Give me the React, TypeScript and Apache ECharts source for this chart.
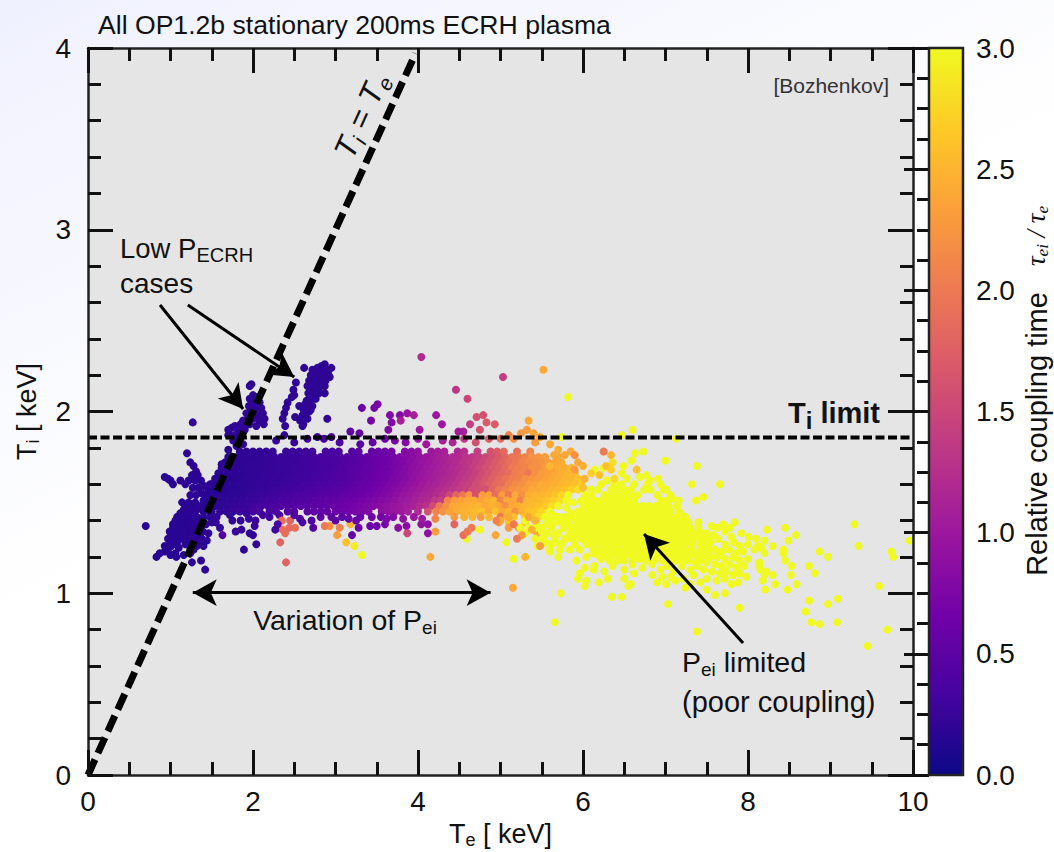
import React, { useEffect, useRef } from "react";
import * as echarts from "echarts";

const plasma = ["#0d0887","#46039f","#7201a8","#9c179e","#bd3786","#d8576b","#ed7953","#fb9f3a","#fdca26","#f0f921"];
const xTickLimit = 10;
const yTickLimit = 4;
const coolingLimit = 1.857;
const saturated = 3;

// Dense band, one list per Ti row: Te, ratio, Te, ratio ...
const band178 = [1.84,.2,1.92,.2,2.0,.21,2.08,.2,2.16,.22,2.24,.23,2.4,.26,2.48,.27,2.56,.26,2.64,.3,2.72,.29,2.88,.34,2.96,.36,3.04,.37,3.2,.45,3.28,.47,3.44,.56,3.52,.58,3.6,.62,3.68,.68,3.84,.78,3.92,.85,4.0,.9,4.16,1.0,4.24,1.05,4.32,1.1,4.48,1.15,4.56,1.25,4.72,1.4,4.88,1.6,4.96,1.7,5.04,1.85,5.2,1.9,5.36,2.1];
const band175 = [1.7,.18,1.78,.2,1.86,.2,1.94,.21,2.02,.2,2.1,.22,2.18,.23,2.26,.24,2.34,.25,2.42,.26,2.5,.27,2.58,.28,2.66,.3,2.74,.3,2.82,.33,2.9,.35,2.98,.37,3.06,.4,3.14,.43,3.22,.46,3.3,.5,3.38,.54,3.46,.58,3.54,.6,3.62,.65,3.7,.7,3.78,.75,3.86,.8,3.94,.86,4.02,.92,4.1,.96,4.18,1.02,4.26,1.08,4.34,1.12,4.42,1.18,4.5,1.2,4.58,1.3,4.66,1.35,4.74,1.42,4.82,1.5,4.9,1.6,4.98,1.7,5.06,1.8,5.14,1.95,5.22,2.0,5.3,2.1,5.38,2.2,5.46,2.25,5.54,2.3];
const band172 = [1.66,.18,1.74,.19,1.82,.2,1.9,.2,1.98,.21,2.06,.22,2.14,.22,2.22,.24,2.3,.25,2.38,.26,2.46,.27,2.54,.28,2.62,.29,2.7,.3,2.78,.32,2.86,.34,2.94,.36,3.02,.39,3.1,.42,3.18,.45,3.26,.48,3.34,.52,3.42,.56,3.5,.6,3.58,.63,3.66,.68,3.74,.73,3.82,.78,3.9,.84,3.98,.9,4.06,.95,4.14,1.0,4.22,1.06,4.3,1.1,4.38,1.16,4.46,1.2,4.54,1.28,4.62,1.34,4.7,1.42,4.78,1.5,4.86,1.6,4.94,1.7,5.02,1.8,5.1,1.9,5.18,2.0,5.26,2.1,5.34,2.15,5.42,2.2,5.5,2.25,5.58,2.3,5.66,2.4,5.74,2.45];
const band169 = [1.62,.17,1.7,.18,1.78,.19,1.86,.2,1.94,.21,2.02,.21,2.1,.22,2.18,.24,2.26,.24,2.34,.26,2.42,.26,2.5,.28,2.58,.28,2.66,.3,2.74,.31,2.82,.33,2.9,.35,2.98,.37,3.06,.4,3.14,.44,3.22,.47,3.3,.5,3.38,.55,3.46,.58,3.54,.62,3.62,.66,3.7,.72,3.78,.76,3.86,.82,3.94,.88,4.02,.93,4.1,.98,4.18,1.03,4.26,1.08,4.34,1.14,4.42,1.2,4.5,1.25,4.58,1.3,4.66,1.4,4.74,1.5,4.82,1.6,4.9,1.7,4.98,1.75,5.06,1.85,5.14,2.0,5.22,2.05,5.3,2.1,5.38,2.2,5.46,2.2,5.54,2.3,5.62,2.35,5.7,2.45,5.78,2.45,5.86,2.5];
const band166 = [1.58,.16,1.66,.18,1.74,.18,1.82,.2,1.9,.2,1.98,.21,2.06,.22,2.14,.23,2.22,.24,2.3,.25,2.38,.26,2.46,.28,2.54,.28,2.62,.3,2.7,.3,2.78,.33,2.86,.35,2.94,.37,3.02,.4,3.1,.43,3.18,.46,3.26,.5,3.34,.54,3.42,.57,3.5,.62,3.58,.66,3.66,.7,3.74,.75,3.82,.8,3.9,.86,3.98,.92,4.06,.98,4.14,1.03,4.22,1.08,4.3,1.12,4.38,1.18,4.46,1.22,4.54,1.3,4.62,1.36,4.7,1.45,4.78,1.55,4.86,1.65,4.94,1.75,5.02,1.82,5.1,1.9,5.18,2.05,5.26,2.1,5.34,2.0,5.42,2.2,5.5,2.3,5.58,2.35,5.66,2.4,5.74,2.45,5.82,2.5,5.9,2.55];
const band163 = [1.54,.16,1.62,.17,1.7,.18,1.78,.19,1.86,.2,1.94,.21,2.02,.22,2.1,.23,2.18,.24,2.26,.25,2.34,.26,2.42,.27,2.5,.29,2.58,.3,2.66,.31,2.74,.33,2.82,.34,2.9,.36,2.98,.39,3.06,.42,3.14,.45,3.22,.48,3.3,.52,3.38,.56,3.46,.6,3.54,.64,3.62,.68,3.7,.74,3.78,.78,3.86,.84,3.94,.9,4.02,.96,4.1,1.02,4.18,1.06,4.26,1.12,4.34,1.18,4.42,1.22,4.5,1.3,4.58,1.36,4.66,1.45,4.74,1.55,4.82,1.65,4.9,1.75,4.98,1.85,5.06,1.95,5.14,2.05,5.22,2.1,5.3,2.2,5.38,2.25,5.46,2.3,5.54,2.35,5.62,2.4,5.7,2.45,5.78,2.5,5.86,2.55,5.94,2.6];
const band160 = [1.5,.16,1.58,.17,1.66,.17,1.74,.18,1.82,.2,1.9,.2,1.98,.22,2.06,.23,2.14,.24,2.22,.25,2.3,.26,2.38,.28,2.46,.3,2.54,.3,2.62,.33,2.7,.34,2.78,.36,2.86,.38,2.94,.4,3.02,.43,3.1,.46,3.18,.5,3.26,.53,3.34,.57,3.42,.6,3.5,.65,3.58,.7,3.66,.75,3.74,.78,3.82,.85,3.9,.9,3.98,.96,4.06,1.02,4.14,1.08,4.22,1.12,4.3,1.18,4.38,1.24,4.46,1.3,4.54,1.4,4.62,1.45,4.7,1.55,4.78,1.65,4.86,1.75,4.94,1.85,5.02,1.9,5.1,2.05,5.18,2.15,5.26,2.2,5.34,2.3,5.42,2.35,5.5,2.4,5.58,2.42,5.66,2.45,5.74,2.5,5.82,2.55,5.9,2.6,5.98,2.65];
const band157 = [1.46,.16,1.54,.16,1.62,.17,1.7,.18,1.78,.19,1.86,.2,1.94,.21,2.02,.22,2.1,.24,2.18,.25,2.26,.27,2.34,.29,2.42,.3,2.5,.32,2.58,.33,2.66,.36,2.74,.38,2.82,.4,2.9,.42,2.98,.44,3.06,.47,3.14,.5,3.22,.54,3.3,.58,3.38,.6,3.46,.66,3.54,.7,3.62,.76,3.7,.8,3.78,.86,3.86,.92,3.94,.98,4.02,1.04,4.1,1.1,4.18,1.14,4.26,1.2,4.34,1.26,4.42,1.32,4.5,1.4,4.58,1.45,4.66,1.55,4.74,1.6,4.82,1.6,4.9,1.8,4.98,2.0,5.06,2.1,5.14,2.2,5.22,2.25,5.3,2.3,5.38,2.4,5.46,2.4,5.54,2.45,5.62,2.5,5.7,2.55,5.78,2.6,5.86,2.7,5.94,2.8];
const band154 = [1.42,.16,1.5,.16,1.58,.18,1.66,.18,1.74,.2,1.82,.2,1.9,.22,1.98,.23,2.06,.25,2.14,.27,2.22,.29,2.3,.3,2.38,.33,2.46,.35,2.54,.38,2.62,.4,2.7,.42,2.78,.44,2.86,.46,2.94,.48,3.02,.5,3.1,.54,3.18,.56,3.26,.6,3.34,.63,3.42,.68,3.5,.72,3.58,.76,3.66,.82,3.74,.88,3.82,.95,3.9,1.0,3.98,1.06,4.06,1.12,4.14,1.16,4.22,1.22,4.3,1.3,4.38,1.5,4.46,1.8,4.54,2.0,4.62,2.25,4.7,1.6,4.78,2.3,4.86,2.35,4.94,1.9,5.02,2.3,5.1,2.0,5.18,2.4,5.26,2.2,5.34,2.45,5.42,2.5,5.5,2.5,5.58,2.55,5.66,2.6,5.74,2.75,5.82,3.0];
const band151 = [1.4,.16,1.48,.17,1.56,.18,1.64,.19,1.72,.2,1.8,.22,1.88,.23,1.96,.25,2.04,.26,2.12,.29,2.2,.3,2.28,.33,2.36,.36,2.44,.38,2.52,.4,2.6,.43,2.68,.45,2.76,.47,2.84,.5,2.92,.52,3.0,.54,3.08,.58,3.16,.6,3.24,.64,3.32,.68,3.4,.72,3.48,.76,3.56,.8,3.64,.86,3.72,.92,3.8,.98,3.88,1.02,3.96,1.08,4.04,1.15,4.12,1.2,4.2,1.35,4.28,1.4,4.36,2.1,4.44,2.3,4.52,2.35,4.6,2.4,4.68,2.42,4.76,2.35,4.84,2.45,4.92,2.5,5.0,2.1,5.08,2.4,5.16,2.4,5.24,2.1,5.32,2.5,5.4,2.5,5.48,2.55,5.56,2.6,5.64,2.7,5.72,2.8,5.8,3.0];
const band148 = [1.38,.16,1.46,.17,1.54,.18,1.62,.2,1.7,.21,1.78,.23,1.86,.25,1.94,.27,2.02,.3,2.1,.32,2.18,.35,2.26,.38,2.34,.4,2.42,.42,2.5,.44,2.58,.46,2.66,.48,2.74,.5,2.82,.52,2.9,.55,2.98,.58,3.06,.6,3.14,.64,3.22,.68,3.3,.72,3.38,.75,3.46,.8,3.54,.85,3.62,.9,3.7,.95,3.78,1.0,3.86,1.05,3.94,1.1,4.02,1.2,4.1,1.28,4.18,1.55,4.26,2.0,4.34,2.2,4.42,2.4,4.5,2.42,4.58,2.45,4.66,2.48,4.74,2.5,4.82,2.4,4.9,2.48,4.98,2.4,5.06,2.2,5.14,2.4,5.22,2.45,5.3,2.5,5.38,2.55,5.46,2.6,5.54,2.65,5.62,2.8,5.7,3.0];
const band145 = [1.5,.17,1.6,.2,1.68,.22,1.76,.24,1.84,.27,1.92,.3,2.0,.32,2.08,.34,2.2,.38,2.28,.4,2.42,.44,2.5,.46,2.66,.5,2.74,.52,2.82,.55,2.9,.57,3.0,.6,3.08,.64,3.16,.66,3.24,.7,3.32,.75,3.4,.78,3.56,.86,3.64,.92,3.72,.98,3.8,1.0,3.88,1.08,4.0,1.2,4.12,1.6,4.22,2.1,4.3,2.2,4.38,2.35,4.46,2.42,4.54,2.48,4.62,2.5,4.7,2.55,4.78,2.6,4.86,2.4,4.94,2.6,5.02,2.4,5.1,2.5,5.18,2.2,5.26,2.5,5.34,2.6,5.42,2.65,5.5,2.75,5.6,3.0];
const east142 = [4.44,2.3,4.56,2.45,4.66,2.5,4.76,2.3,4.86,2.55,5.0,2.0,5.08,2.5,5.16,2.6,5.3,2.6,5.38,2.6,5.46,2.8,5.54,3,5.62,3,5.7,3,5.78,3,5.86,3];
const east139 = [4.98,2.2,5.1,2.6,5.3,2.5,5.44,3,5.56,3,5.66,3,5.74,3,5.82,3];
const east136 = [5.1,2.3,5.22,2.3,5.34,3,5.5,3,5.62,3,5.76,3,5.86,3];
const east133 = [5.3,3,5.44,2.4,5.56,3,5.7,3,5.84,3];
const east130 = [5.42,3,5.52,3,5.66,3,5.78,3,5.88,3];
const east127 = [5.5,3,5.62,3,5.74,3,5.9,3];
const east124 = [5.6,3,5.72,3,5.84,3,5.96,3];

const bandRows: [number, number[]][] = [[1.78,band178],[1.75,band175],[1.72,band172],[1.69,band169],[1.66,band166],[1.63,band163],[1.60,band160],[1.57,band157],[1.54,band154],[1.51,band151],[1.48,band148],[1.45,band145],[1.42,east142],[1.39,east139],[1.36,east136],[1.33,east133],[1.30,east130],[1.27,east127],[1.24,east124]];

// Saturated core, one list per Ti row: Te only
const core160 = [6.22,6.38,6.46,6.62,6.78,6.94];
const core157 = [6.1,6.18,6.34,6.42,6.5,6.58,6.74,6.82,6.98];
const core154 = [6.02,6.1,6.26,6.34,6.42,6.5,6.58,6.66,6.9,7.06];
const core151 = [5.98,6.06,6.14,6.22,6.3,6.38,6.46,6.54,6.62,6.94,7.02];
const core148 = [6.0,6.08,6.16,6.24,6.32,6.4,6.48,6.56,6.64,6.72,6.8,6.88,6.96,7.04,7.14];
const core145 = [5.94,6.02,6.1,6.18,6.26,6.34,6.42,6.5,6.58,6.66,6.74,6.82,6.9,6.98,7.06,7.16];
const core142 = [5.96,6.04,6.12,6.2,6.28,6.36,6.44,6.52,6.6,6.68,6.76,6.84,6.92,7.0,7.08,7.16];
const core139 = [5.92,6.0,6.08,6.16,6.24,6.32,6.4,6.48,6.56,6.64,6.72,6.8,6.88,6.96,7.04,7.12,7.2,7.28,7.4];
const core136 = [5.94,6.02,6.1,6.18,6.26,6.34,6.42,6.5,6.58,6.66,6.74,6.82,6.9,6.98,7.06,7.14,7.22,7.3,7.4];
const core133 = [5.92,6.0,6.08,6.16,6.24,6.32,6.4,6.48,6.56,6.64,6.72,6.8,6.88,6.96,7.04,7.12,7.2,7.28,7.36,7.44];
const core130 = [5.98,6.06,6.14,6.22,6.3,6.38,6.46,6.54,6.62,6.7,6.78,6.86,6.94,7.02,7.1,7.18,7.26,7.34,7.42,7.5];
const core127 = [6.04,6.12,6.2,6.28,6.36,6.44,6.52,6.6,6.68,6.76,6.84,6.92,7.0,7.08,7.16,7.24,7.32,7.42,7.5];
const core124 = [6.12,6.2,6.28,6.36,6.44,6.52,6.6,6.68,6.76,6.84,6.92,7.0,7.08,7.16,7.24,7.32,7.42,7.52];
const core121 = [6.18,6.26,6.34,6.42,6.5,6.58,6.66,6.74,6.82,6.9,6.98,7.06,7.14,7.22,7.3,7.38,7.48];

const coreRows: [number, number[]][] = [[1.60,core160],[1.57,core157],[1.54,core154],[1.51,core151],[1.48,core148],[1.45,core145],[1.42,core142],[1.39,core139],[1.36,core136],[1.33,core133],[1.30,core130],[1.27,core127],[1.24,core124],[1.21,core121]];

// Individual dots: Te, Ti, ratio
const lowPowerRight = [[2.83,2.25,.2],[2.87,2.26,.2],[2.95,2.24,.2],[2.78,2.24,.2],[2.72,2.23,.2],[2.62,2.24,.18],[2.8,2.21,.2],[2.86,2.22,.2],[2.91,2.21,.2],[2.93,2.19,.2],[2.75,2.2,.2],[2.7,2.2,.2],[2.83,2.18,.2],[2.88,2.17,.2],[2.78,2.16,.2],[2.72,2.16,.2],[2.68,2.17,.2],[2.82,2.14,.2],[2.87,2.14,.2],[2.76,2.13,.2],[2.7,2.13,.2],[2.66,2.14,.2],[2.8,2.1,.2],[2.73,2.1,.2],[2.67,2.1,.2],[2.87,2.1,.2],[2.76,2.07,.2],[2.7,2.06,.2],[2.65,2.06,.2],[2.72,2.03,.2],[2.65,2.02,.2],[2.6,2.02,.2],[2.56,2.03,.2],[2.68,2.0,.2],[2.6,1.98,.2],[2.52,2.16,.2],[2.49,2.12,.2],[2.47,2.08,.2],[2.5,2.09,.2],[2.42,2.05,.2],[2.4,2.02,.2],[2.38,1.99,.2],[2.36,1.96,.2],[2.39,1.92,.2],[2.38,1.87,.22],[2.51,1.97,.2],[2.57,1.95,.2],[2.66,1.96,.2],[2.61,1.93,.2],[2.9,1.96,.22],[2.6,1.92,.2],[2.75,2.18,.2],[2.85,2.2,.2],[2.79,2.12,.2],[2.74,2.15,.2],[2.69,2.08,.2],[2.63,2.04,.2],[2.7,2.01,.2],[2.62,2.0,.2],[2.84,2.16,.2],[2.9,2.23,.2]];
const lowPowerLeft = [[1.98,2.15,.2],[1.96,2.14,.2],[2.0,2.09,.2],[1.96,2.07,.2],[2.05,2.08,.2],[2.08,2.05,.2],[2.0,2.05,.2],[1.95,2.03,.2],[2.1,2.02,.2],[2.04,2.02,.2],[2.12,1.99,.2],[2.06,1.98,.2],[1.99,2.0,.2],[1.92,1.99,.2],[2.14,1.96,.2],[2.08,1.95,.2],[2.0,1.96,.2],[1.94,1.96,.2],[1.88,1.95,.2],[2.13,1.93,.2],[2.04,1.92,.2],[1.96,1.93,.2],[1.85,1.93,.2],[1.78,1.92,.2],[1.74,1.91,.2],[1.82,1.9,.2],[1.9,1.9,.2],[1.7,1.9,.2],[1.72,1.87,.2],[1.78,1.87,.2],[1.85,1.87,.2],[1.76,1.84,.2],[1.82,1.84,.2],[1.8,1.81,.2],[1.88,1.82,.2],[1.27,1.94,.2],[1.7,1.87,.2],[1.9,1.93,.2],[2.02,1.99,.2],[1.97,2.02,.2],[2.1,1.98,.2]];
const leftWing = [[1.2,1.77,.18],[1.24,1.72,.18],[1.28,1.7,.18],[1.31,1.67,.18],[1.26,1.65,.18],[1.33,1.65,.18],[1.37,1.62,.18],[1.22,1.62,.18],[1.3,1.62,.18],[1.12,1.62,.18],[1.18,1.6,.18],[.93,1.64,.16],[.97,1.63,.16],[1.0,1.62,.16],[1.03,1.6,.16],[1.27,1.58,.18],[1.34,1.58,.18],[1.41,1.59,.18],[1.48,1.6,.18],[1.56,1.62,.18],[1.6,1.66,.18],[1.62,1.71,.18],[1.7,1.79,.18],[1.24,1.54,.17],[1.31,1.54,.18],[1.38,1.55,.18],[1.14,1.5,.17],[1.22,1.5,.17],[1.3,1.5,.18],[1.16,1.46,.17],[1.24,1.46,.17],[1.32,1.46,.18],[1.4,1.45,.18],[1.48,1.45,.18],[1.08,1.42,.16],[1.16,1.42,.17],[1.24,1.42,.17],[1.32,1.42,.18],[1.4,1.42,.18],[1.48,1.42,.18],[1.56,1.42,.2],[1.03,1.38,.16],[1.11,1.38,.16],[1.19,1.38,.17],[1.27,1.38,.17],[1.35,1.38,.18],[1.43,1.38,.18],[1.5,1.39,.2],[.99,1.34,.16],[1.07,1.34,.16],[1.15,1.34,.17],[1.23,1.34,.17],[1.31,1.34,.18],[1.39,1.34,.18],[1.46,1.33,.2],[.97,1.3,.16],[1.05,1.3,.16],[1.13,1.3,.16],[1.22,1.29,.17],[1.3,1.3,.18],[1.38,1.3,.18],[1.44,1.29,.2],[.93,1.26,.16],[1.01,1.26,.16],[1.1,1.25,.16],[1.24,1.25,.17],[1.32,1.26,.18],[1.4,1.26,.18],[.87,1.22,.15],[.93,1.23,.15],[1.0,1.21,.16],[1.06,1.22,.16],[1.07,1.2,.16],[.83,1.2,.15],[1.16,1.21,.17],[1.24,1.22,.18],[.7,1.37,.16],[1.26,1.17,.18],[1.37,1.18,.18],[1.42,1.13,.18],[1.89,1.24,.2],[2.04,1.27,.22],[2.0,1.32,.22],[1.96,1.33,.22],[1.55,1.39,.22],[1.6,1.36,.22],[1.63,1.32,.45],[1.79,1.34,.24],[1.86,1.35,.24],[1.75,1.4,.22],[1.85,1.4,.24],[1.95,1.41,.25],[2.03,1.4,.26],[2.02,1.37,.26],[1.72,1.43,.22],[1.92,1.44,.26],[2.12,1.43,.3],[2.32,1.43,.36],[1.18,1.48,.17],[1.26,1.48,.17],[1.34,1.48,.18],[1.12,1.44,.17],[1.2,1.44,.17],[1.28,1.44,.18],[1.06,1.4,.16],[1.15,1.4,.17],[1.23,1.4,.17],[1.31,1.4,.18],[1.39,1.4,.18],[1.03,1.36,.16],[1.11,1.36,.16],[1.19,1.36,.17],[1.27,1.36,.18],[1.35,1.36,.18],[1.01,1.32,.16],[1.09,1.32,.16],[1.18,1.32,.17],[1.27,1.32,.18],[1.35,1.32,.18],[1.0,1.28,.16],[1.08,1.28,.16],[1.18,1.27,.17],[1.27,1.28,.18],[1.36,1.28,.18],[.97,1.24,.16],[1.28,1.24,.18]];
const lowerFringe = [[2.33,1.28,1.8],[2.4,1.17,1.8],[2.35,1.4,1.9],[2.45,1.4,1.8],[2.39,1.33,1.9],[2.51,1.36,1.9],[2.44,1.36,1.85],[2.36,1.35,1.9],[3.18,1.38,2.5],[2.93,1.37,2.2],[2.87,1.37,2.0],[3.05,1.36,2.1],[3.02,1.32,2.3],[3.13,1.28,2.6],[3.23,1.26,2.9],[3.32,1.21,3],[4.15,1.2,2.4],[4.21,1.34,2.3],[4.21,1.41,2.1],[4.44,1.38,1.8],[4.59,1.3,3],[4.75,1.35,3],[4.55,1.32,1.9],[4.94,1.32,2.4],[5.07,1.28,3],[4.65,1.36,2.0],[4.6,1.34,2.0],[2.27,1.35,.3],[2.73,1.36,.4],[3.2,1.32,.55],[2.57,1.41,.35],[2.71,1.4,.38],[3.08,1.42,.5],[3.28,1.36,.6],[3.42,1.37,.6],[3.5,1.37,.65],[3.6,1.38,.7],[3.76,1.36,.85],[3.86,1.37,.85],[3.87,1.33,1.5],[4.12,1.33,.9],[4.12,1.38,.9],[4.04,1.38,.9],[3.44,1.42,.65],[3.7,1.42,.8],[3.82,1.41,.9],[3.95,1.42,1.0],[4.05,1.41,1.0],[2.3,1.38,.32],[2.5,1.43,.4],[2.6,1.39,.38],[3.0,1.4,.5],[3.3,1.42,.6],[3.55,1.42,.7],[3.16,1.41,.55],[2.82,1.42,.5],[2.95,1.42,.52],[3.25,1.4,.6],[3.62,1.41,.75],[2.2,1.42,.32]];
const upperFringe = [[4.04,2.3,1.2],[4.46,2.12,1.3],[4.6,2.07,1.5],[5.03,2.19,1.4],[5.52,2.23,2.4],[5.34,1.95,2.4],[3.32,2.02,.6],[3.51,2.04,.7],[3.47,2.02,.7],[3.43,1.95,.7],[3.66,1.98,.8],[3.78,1.98,.8],[3.87,1.99,.95],[3.95,1.98,1.1],[3.79,1.95,1.1],[3.68,1.94,.8],[3.64,1.9,.8],[4.22,1.98,1.0],[4.29,1.93,1.0],[4.02,1.9,1.0],[3.18,1.89,.5],[3.29,1.88,.55],[4.55,1.89,1.1],[4.71,1.97,1.6],[4.79,1.98,1.6],[4.83,1.94,1.7],[4.93,1.93,1.7],[4.63,1.93,1.4],[4.75,1.9,1.6],[4.49,1.89,1.05],[2.28,1.84,.25],[2.5,1.83,.26],[2.66,1.85,.3],[2.78,1.86,.32],[2.86,1.85,.32],[2.95,1.86,.34],[3.05,1.83,.38],[3.3,1.82,.48],[3.45,1.83,.55],[3.6,1.85,.65],[3.72,1.84,.7],[3.85,1.83,.8],[4.0,1.85,.95],[4.1,1.82,1.0],[4.3,1.84,1.1],[4.42,1.83,1.15],[4.56,1.85,1.35],[4.7,1.83,1.6],[4.86,1.85,1.7],[5.0,1.85,1.9],[5.1,1.87,2.1],[5.16,1.85,2.2],[5.25,1.88,2.25],[5.32,1.9,2.3],[5.4,1.88,2.4],[5.48,1.86,2.4],[5.42,1.83,2.3],[5.6,1.82,2.4],[5.7,1.79,2.45],[5.85,1.78,2.4],[5.9,1.76,2.2],[5.78,1.76,2.4],[5.65,1.76,2.4],[6.25,1.78,2.0],[6.34,1.76,2.5],[6.36,1.72,2.8],[6.28,1.7,2.6],[6.34,1.68,2.7],[6.2,1.65,2.6],[6.1,1.66,2.7],[6.38,1.63,2.8],[6.02,1.63,2.5],[6.0,1.58,2.6],[5.85,1.64,2.5],[6.65,1.68,2.6]];
const sparseSaturated = [[5.82,2.08],[6.6,1.9],[7.13,1.85],[6.47,1.87],[5.74,1.86],[7.0,1.73],[7.38,1.7],[7.32,1.6],[7.66,1.6],[7.46,1.53],[7.37,1.51],[7.84,1.39],[8.23,1.35],[8.45,1.36],[8.58,1.32],[8.49,1.29],[9.29,1.38],[9.34,1.26],[9.96,1.29],[9.74,1.23],[9.76,1.2],[8.87,1.23],[8.97,1.2],[8.43,1.24],[8.43,1.22],[8.45,1.18],[8.53,1.15],[8.74,1.15],[8.81,1.11],[8.52,1.1],[8.59,1.05],[8.48,1.02],[8.33,1.05],[8.21,1.02],[8.74,.96],[9.09,.97],[8.97,.94],[8.7,.9],[8.77,.84],[8.87,.83],[9.08,.84],[9.59,1.04],[9.69,.8],[9.45,.71],[7.38,.79],[7.9,.92],[7.03,.94],[6.35,.98],[6.47,.98],[5.73,1.0],[5.66,.84],[5.16,1.19],[6.02,1.04],[6.55,1.04],[6.19,1.06],[5.94,1.08],[7.72,1.0],[7.6,.99],[7.24,1.03],[7.01,1.05],[6.13,1.13],[8.14,1.15],[8.18,1.07],[7.5,1.02],[7.12,1.07],[6.96,1.09],[6.58,1.05],[6.5,1.08],[8.3,1.1],[8.22,1.12],[8.3,1.26],[8.2,1.29],[8.12,1.26],[5.7,1.2],[5.6,1.23],[5.55,1.28],[5.72,1.27],[5.8,1.3],[5.65,1.32],[5.5,1.34],[5.58,1.38],[5.42,1.36],[5.8,1.37],[5.72,1.4],[5.64,1.43],[5.86,1.44],[5.8,1.47],[5.88,1.5],[5.3,1.4],[5.24,1.36],[5.45,1.26],[6.63,1.77],[6.73,1.78],[6.59,1.73],[6.49,1.7],[6.25,1.69],[6.14,1.68],[6.47,1.66],[6.77,1.65],[6.91,1.63],[6.81,1.62],[6.69,1.64],[6.53,1.63],[6.29,1.62],[7.01,1.57],[7.16,1.51],[7.18,1.44],[7.08,1.52],[7.24,1.42]];
const tailDots = [[7.56,1.37],[7.63,1.36],[7.7,1.38],[7.78,1.36],[7.5,1.33],[7.58,1.32],[7.72,1.34],[7.8,1.31],[7.92,1.33],[8.01,1.31],[8.1,1.3],[7.46,1.29],[7.55,1.28],[7.64,1.3],[7.72,1.27],[7.83,1.28],[7.9,1.26],[8.0,1.27],[8.08,1.24],[7.5,1.25],[7.6,1.24],[7.68,1.23],[7.77,1.24],[7.86,1.22],[7.94,1.23],[8.16,1.25],[8.2,1.22],[7.45,1.21],[7.55,1.2],[7.63,1.2],[7.72,1.19],[7.82,1.2],[7.9,1.18],[8.0,1.19],[7.5,1.17],[7.6,1.16],[7.68,1.15],[7.78,1.16],[7.86,1.14],[7.95,1.15],[8.14,1.17],[7.46,1.13],[7.56,1.12],[7.66,1.11],[7.74,1.12],[7.82,1.1],[7.9,1.11],[7.98,1.09],[8.15,1.13],[7.5,1.08],[7.62,1.07],[7.72,1.08],[7.8,1.05],[7.88,1.06],[8.2,1.1]];
const underCore = [[5.92,1.18],[6.04,1.2],[6.12,1.22],[6.22,1.19],[6.32,1.18],[6.42,1.18],[6.5,1.18],[6.6,1.18],[6.68,1.19],[6.76,1.18],[6.86,1.18],[6.96,1.18],[7.04,1.17],[7.12,1.18],[7.2,1.18],[7.28,1.18],[7.36,1.17],[7.42,1.18],[6.02,1.14],[6.14,1.15],[6.36,1.15],[6.5,1.13],[6.6,1.16],[6.72,1.14],[6.84,1.16],[6.94,1.13],[7.02,1.15],[7.1,1.12],[7.2,1.15],[7.3,1.13],[7.38,1.15],[5.96,1.11],[6.26,1.12],[6.62,1.11],[6.84,1.1],[7.06,1.09],[7.22,1.08],[7.34,1.1],[6.04,1.07],[6.3,1.08],[6.9,1.06],[7.3,1.05],[7.42,1.06]];
const orangeEdge = [[5.15,1.03,2.4],[5.34,1.42,2.4],[5.42,1.4,2.5],[5.1,1.42,2.4],[5.0,1.4,2.4],[5.16,1.38,2.0],[5.26,1.32,2.3],[5.38,1.35,2.5],[5.48,1.26,2.3],[5.3,1.2,2.5],[4.95,1.4,2.1],[5.2,1.3,2.0],[5.7,1.75,2.4],[5.6,1.7,2.5],[5.94,1.72,2.4],[5.9,1.68,2.3],[6.0,1.7,2.45]];

function buildPoints() {
  const out: number[][] = [];
  for (const [ti, row] of bandRows) {
    for (let i = 0; i < row.length; i += 2) out.push([row[i], ti, row[i + 1]]);
  }
  for (const [ti, row] of coreRows) {
    for (const te of row) out.push([te, ti, saturated]);
  }
  for (const p of sparseSaturated.concat(tailDots, underCore)) out.push([p[0], p[1], saturated]);
  return out.concat(lowPowerRight, lowPowerLeft, leftWing, lowerFringe, upperFringe, orangeEdge);
}

const ink = "#111";
const sans = "Liberation Sans";
const subStyle = (size: number) => ({ fontSize: size, fontFamily: sans, color: ink, verticalAlign: "bottom", height: 14, lineHeight: 14 });
const mainStyle = (size: number) => ({ fontSize: size, fontFamily: sans, color: ink, lineHeight: 34, verticalAlign: "bottom" });

const note = (x: number, y: number, text: string, rich: any, extra: any = {}, rotation = 0) => ({
  type: "text", x, y, rotation, z: 20, silent: true,
  style: { text, rich, fontFamily: sans, fill: ink, verticalAlign: "middle", align: "left", ...extra },
});

export default function App() {
  const ref = useRef<HTMLDivElement>(null);
  useEffect(() => {
    const chart = echarts.init(ref.current!, null, { renderer: "svg" });
    const mainTicks = { show: true, inside: true, length: 25, lineStyle: { color: ink, width: 3 } };
    const minor = (n: number) => ({ show: true, splitNumber: n, length: 13, lineStyle: { color: ink, width: 3 } });
    const line = { show: true, onZero: false, lineStyle: { color: "#222", width: 2.5 } };
    const tickText = { fontSize: 28, color: ink, fontFamily: sans, hideOverlap: false };
    const nameRich = { a: mainStyle(27), s: subStyle(18) };
    chart.setOption({
      animation: false,
      backgroundColor: "transparent",
      grid: [
        { left: 88, top: 48, width: 825, height: 727, show: true, backgroundColor: "#e5e5e5", borderWidth: 0, outerBoundsMode: "none" },
        { left: 929, top: 48, width: 34, height: 727, show: false, outerBoundsMode: "none" },
      ],
      xAxis: [
        { type: "value", gridIndex: 0, min: 0, max: xTickLimit, interval: 2, position: "bottom", axisLine: line, axisTick: mainTicks, minorTick: minor(4), splitLine: { show: false },
          axisLabel: { ...tickText, margin: 12 }, name: "{a|T}{s|e}{a| [ keV]}", nameLocation: "middle", nameGap: 38, nameTextStyle: { rich: nameRich }, z: 5 },
        { type: "value", gridIndex: 0, min: 0, max: xTickLimit, interval: 2, position: "top", axisLine: line, axisTick: mainTicks, minorTick: minor(4), splitLine: { show: false }, axisLabel: { show: false }, z: 5 },
        { type: "value", gridIndex: 1, min: 0, max: 1, show: false },
      ],
      yAxis: [
        { type: "value", gridIndex: 0, min: 0, max: yTickLimit, interval: 1, position: "left", axisLine: line, axisTick: mainTicks, minorTick: minor(5), splitLine: { show: false },
          axisLabel: { ...tickText, margin: 17 }, name: "{a|T}{s|i}{a| [ keV]}", nameLocation: "middle", nameGap: 48, nameRotate: 90, nameTextStyle: { rich: nameRich }, z: 5 },
        { type: "value", gridIndex: 0, min: 0, max: yTickLimit, interval: 1, position: "right", axisLine: line, axisTick: mainTicks, minorTick: minor(5), splitLine: { show: false }, axisLabel: { show: false }, z: 5 },
        { type: "value", gridIndex: 1, min: 0, max: 3, interval: 0.5, position: "right", axisLine: { show: false }, axisTick: mainTicks, minorTick: { ...minor(4), length: 12 }, splitLine: { show: false },
          axisLabel: { ...tickText, margin: 13, formatter: (v: number) => v.toFixed(1) }, z: 8 },
      ],
      visualMap: {
        type: "continuous", min: 0, max: 3, dimension: 2, seriesIndex: [0], left: 929, top: 48, itemWidth: 34, itemHeight: 727, padding: 0,
        calculable: false, showLabel: false, inRange: { color: plasma }, z: 4,
      },
      series: [
        { type: "scatter", xAxisIndex: 0, yAxisIndex: 0, data: buildPoints(), symbolSize: 8, itemStyle: { opacity: 1 }, silent: true, z: 2 },
        { type: "line", xAxisIndex: 0, yAxisIndex: 0, data: [[0, 0], [3.97, yTickLimit * 0.9925]], showSymbol: false, silent: true, z: 3, clip: true,
          lineStyle: { color: "#000", width: 7, type: [17, 7] },
          markLine: {
            silent: true, symbol: ["none", "arrow"], symbolSize: [20, 24], label: { show: false }, animation: false, precision: 4,
            lineStyle: { color: "#000", width: 3, type: "solid" },
            data: [
              [{ coord: [0.873, 2.586] }, { coord: [1.88, 2.014] }],
              [{ coord: [1.21, 2.586] }, { coord: [2.5, 2.19] }],
              [{ coord: [1.27, 1.003], symbol: "arrow" }, { coord: [4.88, 1.003] }],
              [{ coord: [7.94, 0.726] }, { coord: [6.74, 1.326] }],
            ],
          },
        },
        { type: "line", xAxisIndex: 0, yAxisIndex: 0, data: [[0, coolingLimit], [xTickLimit, coolingLimit]], showSymbol: false, silent: true, z: 3,
          lineStyle: { color: "#000", width: 4, type: [9, 3.5] } },
      ],
      graphic: [
        { type: "rect", x: 929, y: 48, z: 30, silent: true, shape: { width: 34, height: 727 }, style: { fill: "none", stroke: "#222", lineWidth: 2.5 } },
        note(98, 25, "All OP1.2b stationary 200ms ECRH plasma", null, { fontSize: 26.6 }),
        note(889, 85, "[Bozhenkov]", null, { fontSize: 21, align: "right", fill: "#333" }),
        note(360, 115, "{a|T}{s|i}{a| = T}{s|e}", { a: { ...mainStyle(31), fontStyle: "italic" }, s: { ...subStyle(21), fontStyle: "italic" } }, { align: "center" }, 1.145),
        note(120, 245, "{a|Low P}{s|ECRH}", { a: mainStyle(27.5), s: subStyle(20) }),
        note(120, 283, "cases", null, { fontSize: 28 }),
        note(880, 410, "{a|T}{s|i}{a| limit}", { a: { ...mainStyle(29), fontWeight: "bold" }, s: { ...subStyle(24), fontWeight: "bold" } }, { align: "right" }),
        note(345, 617, "{a|Variation of P}{s|ei}", { a: mainStyle(28.5), s: subStyle(19) }, { align: "center" }),
        note(682, 659, "{a|P}{s|ei}{a| limited}", { a: mainStyle(28.5), s: subStyle(19) }),
        note(682, 702, "(poor coupling)", null, { fontSize: 29 }),
        note(1037, 434, "Relative coupling time", null, { fontSize: 29, align: "center" }, Math.PI / 2),
        note(1032, 236, "{a|τ}{s|ei}{a| / τ}{s|e}", { a: { ...mainStyle(27), fontFamily: "Liberation Serif", fontStyle: "italic" }, s: { ...subStyle(17), fontFamily: "Liberation Serif", fontStyle: "italic" } }, { align: "center" }, Math.PI / 2),
      ],
    });
    return () => chart.dispose();
  }, []);
  return (
    <div style={{ position: "absolute", left: 0, top: 0, width: 1054, height: 852, background: "linear-gradient(155deg, #eff1fe 0%, #ffffff 46%)" }}>
      <div ref={ref} style={{ width: 1054, height: 852 }} />
    </div>
  );
}
